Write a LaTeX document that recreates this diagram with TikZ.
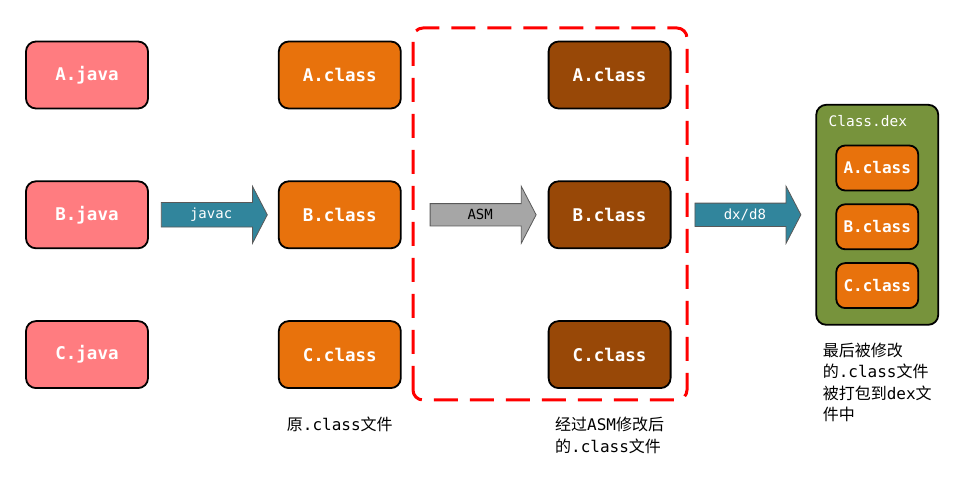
\documentclass[tikz,border=0pt]{standalone}
\usepackage{fontspec}
\setmonofont{DejaVu Sans Mono}
\newfontfamily\cjkfont{Noto Sans CJK SC}
\usetikzlibrary{positioning,shapes.arrows,calc}
\definecolor{javapink}{HTML}{FF7C80}
\definecolor{classorange}{HTML}{E8720C}
\definecolor{asmbrown}{HTML}{984807}
\definecolor{tealarrow}{HTML}{31859C}
\definecolor{greyarrow}{HTML}{A6A6A6}
\definecolor{dexgreen}{HTML}{77933C}

\begin{document}
\begin{tikzpicture}[
                    x=1pt,
                    y=1pt,
                    node distance=71pt,
                    file/.style={draw, line width=1.8pt, rounded corners=10pt,
                        minimum width=122pt, minimum height=67pt, text=white,
                        font=\fontsize{17.5}{20}\selectfont\ttfamily\bfseries},
                    src/.style={file, fill=javapink},
                    cls/.style={file, fill=classorange},
                    modcls/.style={file, fill=asmbrown},
                    packed/.style={file, fill=classorange, rounded corners=9pt,
                        minimum width=82pt, minimum height=45pt,
                        font=\fontsize{16}{18}\selectfont\ttfamily\bfseries},
                    fat/.style={single arrow, draw=black!65, line width=0.8pt,
                        minimum height=106pt, minimum width=57pt,
                        single arrow head extend=14pt, single arrow tip angle=125,
                        font=\fontsize{14}{16}\selectfont\ttfamily},
                    note/.style={align=left, inner sep=0pt,
                        font=\fontsize{16}{21.5}\selectfont\cjkfont}
                ]
                \useasboundingbox (0,0) rectangle (967,485);

                \node[src] (java-a) at (87,410) {A.java} ;
                \node[src] (java-b) [below=of java-a] {B.java} ;
                \node[src] (java-c) [below=of java-b] {C.java} ;

                \node[cls] (class-a) [right=129pt of java-a] {A.class} ;
                \node[cls] (class-b) [right=129pt of java-b] {B.class} ;
                \node[cls] (class-c) [right=129pt of java-c] {C.class} ;

                \node[modcls] (asm-a) [right=146pt of class-a] {A.class} ;
                \node[modcls] (asm-b) [right=146pt of class-b] {B.class} ;
                \node[modcls] (asm-c) [right=146pt of class-c] {C.class} ;

                \node[fat, fill=tealarrow, text=white] (javac) [right=12pt of java-b] {javac} ;
                \node[fat, fill=greyarrow, text=black] (asm) [right=28pt of class-b] {ASM} ;
                \node[fat, fill=tealarrow, text=white] (dx) [right=23pt of asm-b] {dx/d8} ;

                \draw[red, line width=3pt, dash pattern=on 24pt off 12pt, rounded corners=10pt]
                (413,85) rectangle (687,457) ;

                \node[draw, line width=1.8pt, rounded corners=10pt, fill=dexgreen,
                      minimum width=122pt, minimum height=220pt] (dex) [right=14pt of dx] {} ;
                \node[anchor=north west, inner sep=0pt, text=white,
                      font=\fontsize{14.5}{16}\selectfont\ttfamily] (dex-title)
                      at ($(dex.north west)+(13,-11)$) {Class.dex} ;
                \node[packed] (dex-b) at ($(dex.center)+(0,-12)$) {B.class} ;
                \node[packed] (dex-a) [above=12pt of dex-b] {A.class} ;
                \node[packed] (dex-c) [below=12pt of dex-b] {C.class} ;

                \node[note] (note-class) [below=28pt of class-c] {原\texttt{.class}文件} ;
                \node[note] (note-asm) [below=28pt of asm-c] {经过\texttt{ASM}修改后\\的\texttt{.class}文件} ;
                \node[note] (note-dex) [below=17pt of dex] {最后被修改\\的\texttt{.class}文件\\被打包到\texttt{dex}文\\件中} ;
            \end{tikzpicture}
\end{document}
